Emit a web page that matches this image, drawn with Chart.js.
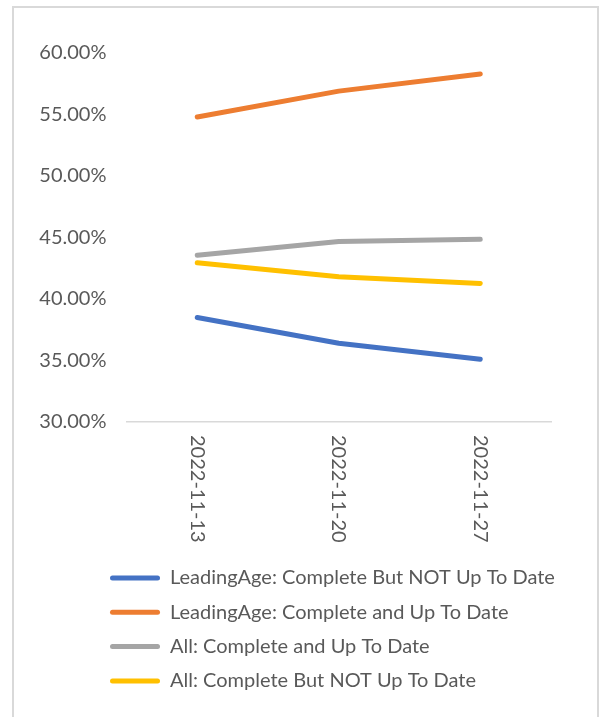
<!DOCTYPE html>
<html>
<head>
<meta charset="utf-8">
<script src="https://cdn.jsdelivr.net/npm/chart.js@4"></script>
<style>
  html, body { margin: 0; padding: 0; background: #fff; overflow: hidden; }
  #frame {
    position: absolute; left: 12px; top: 6px;
    width: 583px; height: 711px;
    border: 2px solid #d9d9d9; border-bottom: none;
  }
</style>
</head>
<body>
<div id="frame"><canvas id="chart" width="583" height="711"></canvas></div>
<script>
// weeks on the x axis
const dates = ['2022-11-13', '2022-11-20', '2022-11-27'];

// series values (share of residents)
const leadingAgeNotUpToDate = [0.385, 0.364, 0.351];
const leadingAgeUpToDate    = [0.548, 0.569, 0.583];
const allUpToDate           = [0.4355, 0.4467, 0.4486];
const allNotUpToDate        = [0.4295, 0.418, 0.4126];

// y axis ticks
const yTicks = [0.30, 0.35, 0.40, 0.45, 0.50, 0.55, 0.60];

const FONT = 'Lato';
const TEXT = '#595959';
const SIZE = 20;

// axis labels drawn by hand at the scales' own pixels
// (x labels read top to bottom, which Chart.js rotation can't do)
const axisLabels = {
  id: 'axisLabels',
  afterDraw(chart) {
    const { ctx, scales: { x, y } } = chart;
    ctx.save();
    ctx.font = `${SIZE}px ${FONT}`;
    ctx.fillStyle = TEXT;
    ctx.textBaseline = 'middle';

    ctx.textAlign = 'right';
    yTicks.forEach(v => {
      ctx.fillText((v * 100).toFixed(2) + '%', x.left - 20, y.getPixelForValue(v));
    });

    ctx.textAlign = 'left';
    dates.forEach((d, i) => {
      ctx.save();
      ctx.translate(x.getPixelForTick(i), x.top + 13);
      ctx.rotate(Math.PI / 2);
      ctx.fillText(d, 0, 0);
      ctx.restore();
    });
    ctx.restore();
  }
};

const line = (label, data, color) => ({
  label, data,
  borderColor: color,
  backgroundColor: color,
  borderWidth: 5,
  borderCapStyle: 'round',
  borderJoinStyle: 'round',
  pointRadius: 0,
  tension: 0
});

new Chart(document.getElementById('chart'), {
  type: 'line',
  data: {
    labels: dates,
    datasets: [
      line('LeadingAge: Complete But NOT Up To Date', leadingAgeNotUpToDate, '#4472C4'),
      line('LeadingAge: Complete and Up To Date', leadingAgeUpToDate, '#ED7D31'),
      line('All: Complete and Up To Date', allUpToDate, '#A5A5A5'),
      line('All: Complete But NOT Up To Date', allNotUpToDate, '#FFC000')
    ]
  },
  options: {
    responsive: false,
    animation: false,
    layout: { padding: { left: 81.7, right: 20, top: 45, bottom: 18.1 } },
    scales: {
      x: {
        offset: true,
        grid: { display: false, drawTicks: false },
        border: { display: true, color: '#d9d9d9', width: 1.5 },
        ticks: { display: false },
        afterFit: s => { s.height = 131.7; }
      },
      y: {
        min: yTicks[0], max: yTicks[yTicks.length - 1],
        grid: { display: false, drawTicks: false },
        border: { display: false },
        ticks: { display: false, stepSize: 0.05 },
        afterFit: s => { s.width = 112.5 - 81.7; }
      },
      // empty spacer on the right so the plot ends where the reference does
      // while the legend keeps the full width
      spacer: {
        position: 'right',
        grid: { display: false, drawTicks: false },
        border: { display: false },
        ticks: { display: false },
        afterFit: s => { s.width = 26; }
      }
    },
    plugins: {
      tooltip: { enabled: false },
      legend: {
        position: 'bottom',
        align: 'start',
        labels: {
          boxWidth: 50,
          boxHeight: 5,
          padding: 14.3,
          color: TEXT,
          font: { family: FONT, size: SIZE },
          useBorderRadius: true,
          generateLabels: chart => chart.data.datasets.map((ds, i) => ({
            text: ds.label,
            fillStyle: ds.borderColor,
            strokeStyle: ds.borderColor,
            lineWidth: 0,
            borderRadius: 2.5,
            fontColor: TEXT,
            datasetIndex: i
          }))
        }
      }
    }
  },
  plugins: [axisLabels]
});
</script>
</body>
</html>
